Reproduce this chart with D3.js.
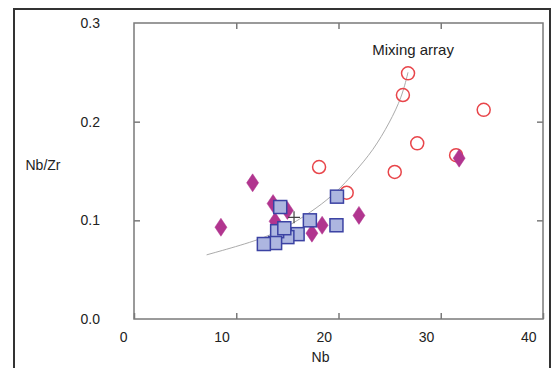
<!DOCTYPE html>
<html>
<head>
<meta charset="utf-8">
<script src="https://cdn.jsdelivr.net/npm/d3@7"></script>
<style>
  body { margin: 0; background: #fff; }
  text { font-family: "Liberation Sans", Arial, sans-serif; fill: #222; }
</style>
</head>
<body>
<div id="chart"></div>
<script>
// ---- data: Nb (ppm) vs Nb/Zr ----
var circleNb   = [26.8, 26.3, 34.2, 27.7, 25.5, 18.1, 20.8, 31.5];
var circleRat  = [0.249, 0.227, 0.212, 0.178, 0.149, 0.154, 0.128, 0.166];

var diamondNb  = [8.5, 11.6, 13.6, 13.8, 15.0, 17.4, 18.4, 22.0, 31.8];
var diamondRat = [0.093, 0.138, 0.117, 0.099, 0.110, 0.087, 0.095, 0.105, 0.163];

var squareNb   = [14.3, 17.2, 19.85, 19.8, 16.0, 15.0, 14.0, 14.7, 13.8, 12.7];
var squareRat  = [0.1135, 0.100, 0.124, 0.095, 0.086, 0.083, 0.089, 0.092, 0.077, 0.076];

var crossNb = [15.65];
var crossRat = [0.103];

// mixing array curve
var mixNb  = [7.1, 10.9, 14.3, 19.2, 21.6, 23.4, 25.0, 26.2, 26.8];
var mixRat = [0.065, 0.076, 0.088, 0.121, 0.149, 0.171, 0.199, 0.225, 0.250];

var xTicks = [0, 10, 20, 30, 40];
var yTicks = [0.0, 0.1, 0.2, 0.3];

var width = 553, height = 368;
var margin = {left: 134, top: 23, right: 10, bottom: 49};

var svg = d3.select('#chart').append('svg')
    .attr('width', width).attr('height', height);

// outer frame of the figure
svg.append('rect')
    .attr('x', 14).attr('y', 9)
    .attr('width', 536).attr('height', 380)
    .attr('fill', 'none').attr('stroke', '#333').attr('stroke-width', 2);

var x = d3.scaleLinear().domain([0, 40]).range([margin.left, width - margin.right]);
var y = d3.scaleLinear().domain([0, 0.3]).range([height - margin.bottom, margin.top]);

var axisColor = '#7a7a7a';

function styleAxis(g) {
    g.select('.domain').remove();
    g.selectAll('.tick line').attr('stroke', axisColor).attr('stroke-width', 1.5);
    g.selectAll('text').style('font-size', '14px').attr('fill', '#222');
}

// bottom
svg.append('g')
    .attr('transform', 'translate(0,' + y(0) + ')')
    .call(d3.axisBottom(x).tickValues(xTicks).tickSizeInner(-6).tickSizeOuter(0).tickPadding(13)
        .tickFormat(d3.format('d')))
    .call(styleAxis)
    .call(function(g) { g.selectAll('text').attr('text-anchor', 'end').attr('dx', -7); });

// top
svg.append('g')
    .attr('transform', 'translate(0,' + y(0.3) + ')')
    .call(d3.axisTop(x).tickValues(xTicks.slice(1, -1)).tickSizeInner(-6).tickSizeOuter(0).tickFormat(''))
    .call(styleAxis);

// left
svg.append('g')
    .attr('transform', 'translate(' + x(0) + ',0)')
    .call(d3.axisLeft(y).tickValues(yTicks).tickSizeInner(-6).tickSizeOuter(0).tickPadding(34)
        .tickFormat(d3.format('.1f')))
    .call(styleAxis)
    .call(function(g) {
        g.selectAll('.tick line').filter(function(d) { return d === 0 || d === 0.3; }).remove();
    });

// right
svg.append('g')
    .attr('transform', 'translate(' + x(40) + ',0)')
    .call(d3.axisRight(y).tickValues(yTicks.slice(1, -1)).tickSizeInner(-6).tickSizeOuter(0).tickFormat(''))
    .call(styleAxis);

// plot frame
svg.append('rect')
    .attr('x', x(0)).attr('y', y(0.3))
    .attr('width', x(40) - x(0)).attr('height', y(0) - y(0.3))
    .attr('fill', 'none').attr('stroke', axisColor).attr('stroke-width', 1.5);

// axis titles
svg.append('text').attr('x', x(20) - 18).attr('y', 362)
    .attr('text-anchor', 'middle').style('font-size', '14px').text('Nb');
svg.append('text').attr('x', 43).attr('y', 170)
    .attr('text-anchor', 'middle').style('font-size', '14px').text('Nb/Zr');

// mixing array
var mixPts = d3.zip(mixNb, mixRat);
svg.append('path')
    .datum(mixPts)
    .attr('fill', 'none').attr('stroke', '#ababab').attr('stroke-width', 1)
    .attr('d', d3.line().x(function(d) { return x(d[0]); }).y(function(d) { return y(d[1]); })
        .curve(d3.curveBasis));

svg.append('text').attr('x', x(23.3)).attr('y', 55)
    .style('font-size', '15px').text('Mixing array');

// open circles
svg.append('g').selectAll('circle')
    .data(d3.zip(circleNb, circleRat))
    .join('circle')
    .attr('cx', function(d) { return x(d[0]); })
    .attr('cy', function(d) { return y(d[1]); })
    .attr('r', 6.5)
    .attr('fill', 'none').attr('stroke', '#e8454a').attr('stroke-width', 1.5);

// diamonds
svg.append('g').selectAll('path')
    .data(d3.zip(diamondNb, diamondRat))
    .join('path')
    .attr('transform', function(d) { return 'translate(' + x(d[0]) + ',' + y(d[1]) + ')'; })
    .attr('d', 'M0,-9L6,0L0,9L-6,0Z')
    .attr('fill', '#b1358f').attr('stroke', '#b1358f').attr('stroke-width', 0.5);

// squares
svg.append('g').selectAll('rect')
    .data(d3.zip(squareNb, squareRat))
    .join('rect')
    .attr('x', function(d) { return x(d[0]) - 6.5; })
    .attr('y', function(d) { return y(d[1]) - 6.5; })
    .attr('width', 13).attr('height', 13)
    .attr('fill', '#adb6e0').attr('stroke', '#3b42a3').attr('stroke-width', 1.5);

// cross
svg.append('g').selectAll('path')
    .data(d3.zip(crossNb, crossRat))
    .join('path')
    .attr('transform', function(d) { return 'translate(' + x(d[0]) + ',' + y(d[1]) + ')'; })
    .attr('d', 'M-6,0H6M0,-6V6')
    .attr('stroke', '#444').attr('stroke-width', 1.2);
</script>
</body>
</html>
